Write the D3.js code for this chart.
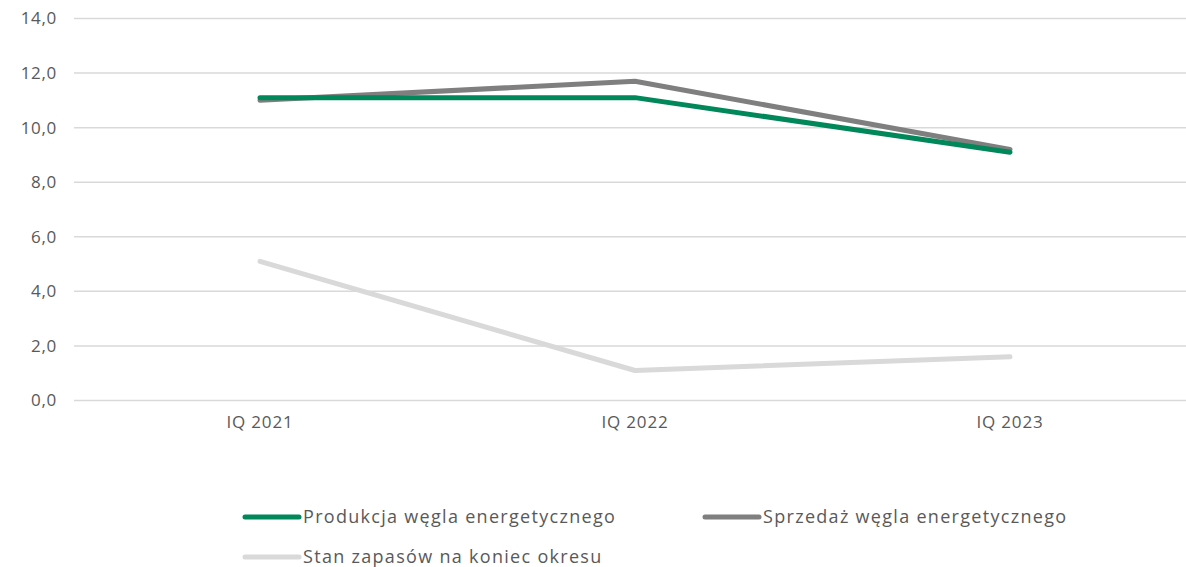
<!DOCTYPE html>
<html>
<head>
<meta charset="utf-8">
<script src="https://cdn.jsdelivr.net/npm/d3@7"></script>
<style>
  body { margin: 0; background: #fff; }
  text { font-family: "Open Sans", sans-serif; fill: #595959; }
</style>
</head>
<body>
<div id="chart"></div>
<script>
// chart data
let categories = ['IQ 2021', 'IQ 2022', 'IQ 2023'];
let produkcja = [11.1, 11.1, 9.1];
let sprzedaz = [11.0, 11.7, 9.2];
let zapasy = [5.1, 1.1, 1.6];
let yTicks = [0, 2, 4, 6, 8, 10, 12, 14];

let seriesNames = ['Produkcja węgla energetycznego', 'Sprzedaż węgla energetycznego', 'Stan zapasów na koniec okresu'];
let seriesColors = ['#00875a', '#7f7f7f', '#d9d9d9'];

let svgWidth = 1186;
let svgHeight = 567;
let fontFamily = '"Open Sans", sans-serif';

let svg = d3.select('#chart')
            .append('svg')
            .attr('width', svgWidth)
            .attr('height', svgHeight);

// scales
let xScale = d3.scaleBand()
               .domain(categories)
               .range([72.5, 1197.5]);

let yScale = d3.scaleLinear()
               .domain([0, 14])
               .range([400.5, 18.5]);

// gridlines
svg.append('g')
   .selectAll('line')
   .data(yTicks)
   .enter()
   .append('line')
   .attr('x1', 74)
   .attr('x2', svgWidth)
   .attr('y1', d => yScale(d))
   .attr('y2', d => yScale(d))
   .attr('stroke', '#d9d9d9')
   .attr('stroke-width', 1.5);

// y axis labels
let yAxis = d3.axisLeft(yScale)
              .tickValues(yTicks)
              .tickSize(0)
              .tickPadding(0)
              .tickFormat(d => d3.format('.1f')(d).replace('.', ','));

let yAxisG = svg.append('g')
                .attr('transform', 'translate(57,0)')
                .call(yAxis);
yAxisG.select('.domain').remove();
yAxisG.selectAll('text')
      .style('font-size', '17px')
      .style('letter-spacing', '0.7px')
      .style('font-family', fontFamily)
      .attr('fill', '#595959');

// x axis labels
let xAxis = d3.axisBottom(xScale).tickSize(0).tickPadding(0);
let xAxisG = svg.append('g')
                .attr('transform', 'translate(0,416)')
                .call(xAxis);
xAxisG.select('.domain').remove();
xAxisG.selectAll('text')
      .style('font-size', '17px')
      .style('letter-spacing', '0.8px')
      .style('font-family', fontFamily)
      .attr('fill', '#595959');

// lines
let line = d3.line()
             .x((d, i) => xScale(categories[i]) + xScale.bandwidth() / 2)
             .y(d => yScale(d));

let allSeries = [zapasy, sprzedaz, produkcja];
let allColors = [seriesColors[2], seriesColors[1], seriesColors[0]];

svg.append('g')
   .selectAll('path')
   .data(allSeries)
   .enter()
   .append('path')
   .attr('d', d => line(d))
   .attr('fill', 'none')
   .attr('stroke', (d, i) => allColors[i])
   .attr('stroke-width', 5)
   .attr('stroke-linecap', 'round')
   .attr('stroke-linejoin', 'round');

// legend
let legendPos = [[243, 517], [703, 517], [243, 557]];
let legend = svg.append('g')
                .selectAll('g')
                .data(seriesNames)
                .enter()
                .append('g')
                .attr('transform', (d, i) => `translate(${legendPos[i][0]}, ${legendPos[i][1]})`);

legend.append('line')
      .attr('x1', 2)
      .attr('x2', 56)
      .attr('stroke', (d, i) => seriesColors[i])
      .attr('stroke-width', 5)
      .attr('stroke-linecap', 'round');

legend.append('text')
      .attr('x', 60)
      .attr('dy', '0.35em')
      .style('font-size', '18px')
      .style('letter-spacing', '1.3px')
      .text(d => d);
</script>
</body>
</html>
